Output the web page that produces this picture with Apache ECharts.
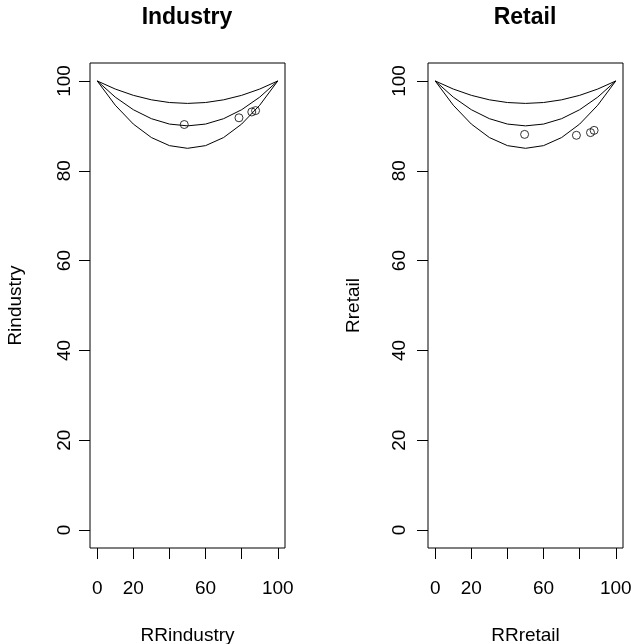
<!DOCTYPE html>
<html>
<head>
<meta charset="utf-8">
<script src="https://cdn.jsdelivr.net/npm/echarts@6/dist/echarts.min.js"></script>
<style>
  html, body { margin: 0; padding: 0; background: #ffffff; }
  #chart { width: 631px; height: 644px; }
</style>
</head>
<body>
<div id="chart"></div>
<script>
// reference curves (x = 0..100 step 10)
const curveX = [0, 10, 20, 30, 40, 50, 60, 70, 80, 90, 100]
const curve95 = [100, 98.2, 96.8, 95.8, 95.2, 95, 95.2, 95.8, 96.8, 98.2, 100]
const curve90 = [100, 96.4, 93.6, 91.6, 90.4, 90, 90.4, 91.6, 93.6, 96.4, 100]
const curve85 = [100, 94.6, 90.4, 87.4, 85.6, 85, 85.6, 87.4, 90.4, 94.6, 100]

// points
const industryX = [48.2, 78.5, 85.6, 87.7]
const industryY = [90.3, 91.8, 93.1, 93.4]
const retailX = [49.5, 78.2, 86, 88]
const retailY = [88.1, 87.9, 88.5, 89.0]

const panelTitles = ['Industry', 'Retail']
const xNames = ['RRindustry', 'RRretail']
const yNames = ['Rindustry', 'Rretail']
const xTicks = [0, 20, 40, 60, 80, 100]
const xLabels = [0, 20, 60, 100]
const yTicks = [0, 20, 40, 60, 80, 100]

const FONT = 'Liberation Sans, Arial, sans-serif'

const zip = (xs, ys) => xs.map((x, i) => [x, ys[i]])

const gridLefts = [90, 428]
const yLabelMargins = [16, 19]

let option = {
  animation: false,
  backgroundColor: '#ffffff',
  title: panelTitles.map((t, i) => ({
    text: t,
    left: gridLefts[i] + 92,
    top: 1,
    textAlign: 'center',
    textStyle: {fontFamily: FONT, fontSize: 23, fontWeight: 'bold', color: '#000'}
  })),
  grid: gridLefts.map(l => ({
    left: l, top: 63, width: 195, height: 485,
    outerBoundsMode: 'none', containLabel: false,
    show: true, borderColor: '#000', borderWidth: 1, backgroundColor: 'transparent'
  })),
  xAxis: [0, 1].map(i => ({
    type: 'value', gridIndex: i, min: -4, max: 104,
    name: xNames[i], nameLocation: 'middle', nameGap: 78,
    nameTextStyle: {fontFamily: FONT, fontSize: 19, color: '#000'},
    axisLine: {show: false, onZero: false},
    splitLine: {show: false},
    axisTick: {show: true, inside: false, length: 11, customValues: xTicks, lineStyle: {color: '#000'}},
    axisLabel: {customValues: xLabels, margin: 31, fontFamily: FONT, fontSize: 19, color: '#000'}
  })),
  yAxis: [0, 1].map(i => ({
    type: 'value', gridIndex: i, min: -4, max: 104,
    name: yNames[i], nameLocation: 'middle', nameGap: 65,
    nameTextStyle: {fontFamily: FONT, fontSize: 19, color: '#000'},
    axisLine: {show: false, onZero: false},
    splitLine: {show: false},
    axisTick: {show: true, inside: false, length: 11, customValues: yTicks, lineStyle: {color: '#000'}},
    axisLabel: {customValues: yTicks, rotate: 90, margin: yLabelMargins[i], fontFamily: FONT, fontSize: 19, color: '#000'}
  })),
  series: []
}

;[0, 1].forEach(i => {
  ;[curve95, curve90, curve85].forEach(c => {
    option.series.push({
      type: 'line', xAxisIndex: i, yAxisIndex: i,
      data: zip(curveX, c), smooth: false, showSymbol: false,
      lineStyle: {color: '#000', width: 1}
    })
  })
})
option.series.push({
  type: 'scatter', xAxisIndex: 0, yAxisIndex: 0,
  data: zip(industryX, industryY), symbol: 'circle', symbolSize: 8,
  itemStyle: {color: 'rgba(0,0,0,0)', borderColor: '#000', borderWidth: 1}
})
option.series.push({
  type: 'scatter', xAxisIndex: 1, yAxisIndex: 1,
  data: zip(retailX, retailY), symbol: 'circle', symbolSize: 8,
  itemStyle: {color: 'rgba(0,0,0,0)', borderColor: '#000', borderWidth: 1}
})

let chart = echarts.init(document.getElementById('chart'))
chart.setOption(option)
</script>
</body>
</html>
